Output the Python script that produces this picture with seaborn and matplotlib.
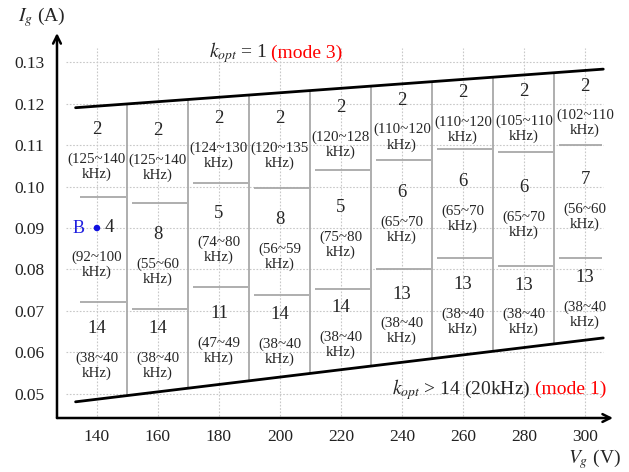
import matplotlib
matplotlib.use("Agg")
import matplotlib.pyplot as plt
import numpy as np
import pandas as pd
import seaborn as sns

# chart data
voltages = [140, 160, 180, 200, 220, 240, 260, 280, 300]
column_edges = [133, 150, 170, 190, 210, 230, 250, 270, 290, 306]
upper_split = [0.0975, 0.0960, 0.1008, 0.0996, 0.1040, 0.1064, 0.1090, 0.1083, 0.1100]
lower_split = [0.0722, 0.0705, 0.0759, 0.0739, 0.0753, 0.0801, 0.0828, 0.0808, 0.0828]

k_high = [2, 2, 2, 2, 2, 2, 2, 2, 2]
f_high = ["125~140", "125~140", "124~130", "120~135", "120~128",
          "110~120", "110~120", "105~110", "102~110"]
k_mid = [4, 8, 5, 8, 5, 6, 6, 6, 7]
f_mid = ["92~100", "55~60", "74~80", "56~59", "75~80",
         "65~70", "65~70", "65~70", "56~60"]
k_low = [14, 14, 11, 14, 14, 13, 13, 13, 13]
f_low = ["38~40", "38~40", "47~49", "38~40", "38~40",
         "38~40", "38~40", "38~40", "38~40"]

mode3_vg = [133, 306]
mode3_ig = [0.1190, 0.1283]
mode1_vg = [133, 306]
mode1_ig = [0.0481, 0.0635]

point_b_vg = [140]
point_b_ig = [0.09]

ig_ticks = [0.05, 0.06, 0.07, 0.08, 0.09, 0.10, 0.11, 0.12, 0.13]

sns.set_theme(style="white")
plt.rcParams["font.family"] = ["Liberation Serif", "DejaVu Serif"]
plt.rcParams["mathtext.fontset"] = "stix"

fig = plt.figure(figsize=(6.29, 4.72), dpi=100)
ax = fig.add_axes([0.0906, 0.1144, 0.884, 0.8156])
ax.set_xlim(126.9, 309.2)
ax.set_ylim(0.0442, 0.137)

# dotted grid, kept inside the plotting region
grid_kw = dict(color="#c8c8c8", linestyle=(0, (1.5, 1.5)), linewidth=0.8, zorder=0)
ax.hlines(ig_ticks, 130, 306, **grid_kw)
ax.vlines(voltages, 0.0447, 0.1334, **grid_kw)

# mode boundary lines
bounds = pd.DataFrame({
    "Vg": mode3_vg + mode1_vg,
    "Ig": mode3_ig + mode1_ig,
    "line": ["mode3"] * len(mode3_vg) + ["mode1"] * len(mode1_vg),
})
sns.lineplot(data=bounds, x="Vg", y="Ig", units="line", estimator=None,
             color="black", linewidth=2.0, legend=False, ax=ax, zorder=4)


def top_at(v):
    return np.interp(v, mode3_vg, mode3_ig)


def bottom_at(v):
    return np.interp(v, mode1_vg, mode1_ig)


cell_color = "#a8a8a8"
inner_edges = column_edges[1:-1]
ax.vlines(inner_edges, [bottom_at(v) for v in inner_edges],
          [top_at(v) for v in inner_edges], color=cell_color, linewidth=1.3, zorder=2)
for i in range(len(voltages)):
    x0, x1 = column_edges[i], column_edges[i + 1]
    ax.hlines([upper_split[i], lower_split[i]], x0 + 1.5, x1 - 0.5,
              color=cell_color, linewidth=1.3, zorder=2)

num_size = 13.5
rng_size = 10.8


def cell_text(x, y_hi, y_lo, k, freq, num_x=None, num_ha="center"):
    mid = (y_hi + y_lo) / 2
    ax.text(x if num_x is None else num_x, mid + 0.0052, str(k), ha=num_ha,
            va="center", fontsize=num_size, zorder=5)
    ax.text(x, mid - 0.0037, f"({freq}\nkHz)", ha="center", va="center",
            fontsize=rng_size, linespacing=1.15, multialignment="center", zorder=5)


for i, v in enumerate(voltages):
    cell_text(v, top_at(v), upper_split[i], k_high[i], f_high[i])
    if i == 0:
        cell_text(v, upper_split[i], lower_split[i], k_mid[i], f_mid[i],
                  num_x=v + 2.6, num_ha="left")
    else:
        cell_text(v, upper_split[i], lower_split[i], k_mid[i], f_mid[i])
    cell_text(v, lower_split[i], bottom_at(v), k_low[i], f_low[i])

# operating point B
sns.scatterplot(x=point_b_vg, y=point_b_ig, color="#1010e0", s=22,
                edgecolor="none", ax=ax, zorder=6)
ax.text(point_b_vg[0] - 5.9, point_b_ig[0], "B", color="#1f1fe0", ha="center",
        va="center", fontsize=13, zorder=6)

# mode annotations
ax.text(195.8, 0.1322, r"$k_{opt}$ = 1", ha="right", va="center", fontsize=14)
ax.text(197.2, 0.1322, "(mode 3)", ha="left", va="center", fontsize=14, color="red")
ax.text(282.0, 0.0510, r"$k_{opt}$ > 14 (20kHz)", ha="right", va="center", fontsize=14)
ax.text(283.6, 0.0510, "(mode 1)", ha="left", va="center", fontsize=14, color="red")

# axes with arrows
for side in ["top", "right", "left", "bottom"]:
    ax.spines[side].set_visible(False)
arrow_kw = dict(arrowstyle="->", color="black", lw=1.8, mutation_scale=14,
                shrinkA=0, shrinkB=0)
ax.annotate("", xy=(0, 1), xycoords="axes fraction", xytext=(0, 0),
            textcoords="axes fraction", arrowprops=arrow_kw)
ax.annotate("", xy=(1, 0), xycoords="axes fraction", xytext=(0, 0),
            textcoords="axes fraction", arrowprops=arrow_kw)

ax.set_xticks(voltages)
ax.set_xticklabels([str(v) for v in voltages])
ax.set_yticks(ig_ticks)
ax.set_yticklabels([f"{t:.2f}" for t in ig_ticks])
ax.tick_params(axis="both", length=0, labelsize=12.5, colors="#222222")
ax.tick_params(axis="y", pad=9)
ax.tick_params(axis="x", pad=8)
ax.set_xlabel("")
ax.set_ylabel("")
ax.grid(False)

fig.text(18 / 629, 1 - 17 / 472, r"$I_g$ (A)", ha="left", va="center", fontsize=14)
fig.text(568 / 629, 1 - 459 / 472, r"$V_g$ (V)", ha="left", va="center", fontsize=14)

fig.savefig("out.png", dpi=100)
plt.close(fig)
